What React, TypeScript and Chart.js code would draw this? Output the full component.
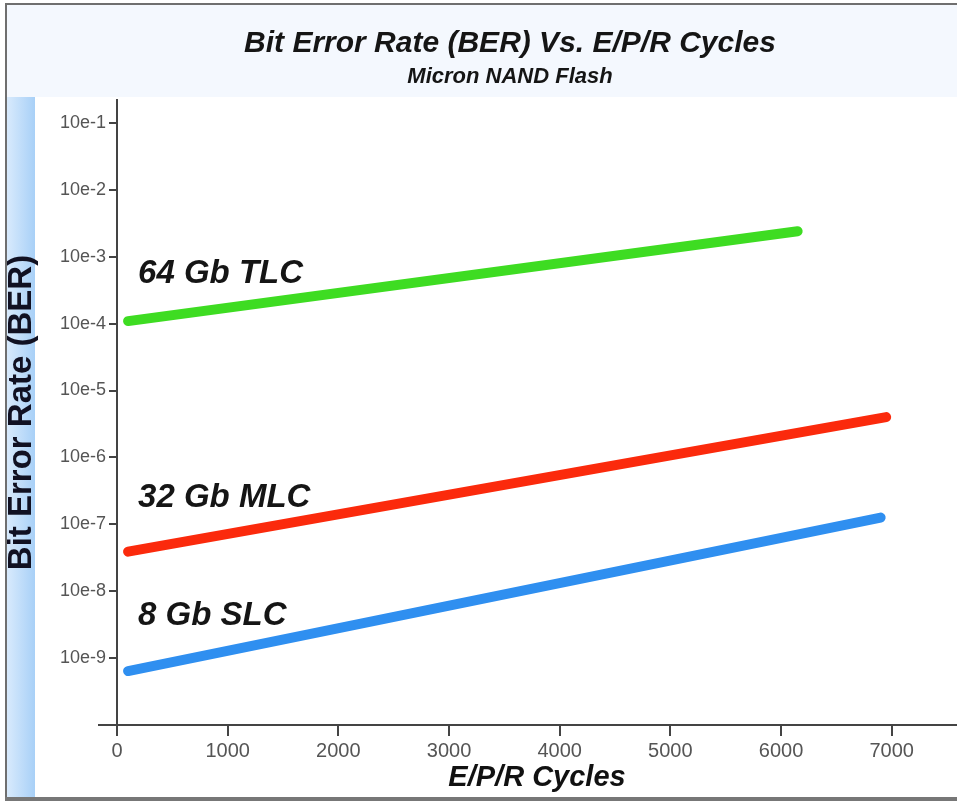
import React, { useEffect, useRef } from 'react';
import { Chart, registerables } from 'chart.js';

Chart.register(...registerables);

const CHART_TITLE = 'Bit Error Rate (BER) Vs. E/P/R Cycles';
const CHART_SUBTITLE = 'Micron NAND Flash';
const X_TITLE = 'E/P/R Cycles';
const Y_TITLE = 'Bit Error Rate (BER)';

const seriesNames = ['64 Gb TLC', '32 Gb MLC', '8 Gb SLC'];
const seriesColors = ['#3edc22', '#fb2a0c', '#2f8ff0'];

const tlcCycles = [100, 6150];
const tlcBER = [1.09e-4, 2.4e-3];
const mlcCycles = [100, 6950];
const mlcBER = [3.9e-8, 4.0e-6];
const slcCycles = [100, 6900];
const slcBER = [6.4e-10, 1.26e-7];

const labelCycles = [190, 190, 190];
const labelBER = [4.0e-4, 1.84e-7, 3.1e-9];

const xTickValues = [0, 1000, 2000, 3000, 4000, 5000, 6000, 7000];
const xTickLabels = ['0', '1000', '2000', '3000', '4000', '5000', '6000', '7000'];
const yTickValues = [1e-9, 1e-8, 1e-7, 1e-6, 1e-5, 1e-4, 1e-3, 1e-2, 1e-1];
const yTickLabels = ['10e-9', '10e-8', '10e-7', '10e-6', '10e-5', '10e-4', '10e-3', '10e-2', '10e-1'];

const X_MIN = 0;
const X_MAX = 7590;
const Y_MIN = 1e-10;
const Y_MAX = 0.22;

const SANS = '"Liberation Sans", Arial, sans-serif';

const decorPlugin = {
  id: 'decor',
  beforeDraw(chart: any) {
    const ctx = chart.ctx;
    const W = chart.width;
    const H = chart.height;
    ctx.save();
    ctx.fillStyle = '#ffffff';
    ctx.fillRect(0, 0, W, H);
    ctx.fillStyle = '#f4f8fe';
    ctx.fillRect(7, 5, W - 7, 92);
    const g = ctx.createLinearGradient(7, 0, 35, 0);
    g.addColorStop(0, '#d8eafc');
    g.addColorStop(1, '#a8d0f7');
    ctx.fillStyle = g;
    ctx.fillRect(7, 97, 28, 701);
    ctx.fillStyle = '#6f6f6f';
    ctx.fillRect(5, 3, 2, 798);
    ctx.fillRect(5, 3, W - 5, 2);
    ctx.fillStyle = '#777777';
    ctx.fillRect(5, 797, W - 5, 4);
    ctx.restore();
  },
  afterDraw(chart: any) {
    const ctx = chart.ctx;
    const { x, y } = chart.scales;
    const area = chart.chartArea;
    ctx.save();
    ctx.strokeStyle = '#444444';
    ctx.lineWidth = 2;
    ctx.beginPath();
    ctx.moveTo(area.left - 19, area.bottom);
    ctx.lineTo(area.left, area.bottom);
    ctx.stroke();

    ctx.fillStyle = '#151515';
    ctx.textAlign = 'center';
    ctx.textBaseline = 'alphabetic';
    ctx.font = `bold italic 30px ${SANS}`;
    ctx.fillText(CHART_TITLE, 510, 52);
    ctx.font = `bold italic 22px ${SANS}`;
    ctx.fillText(CHART_SUBTITLE, 510, 83);

    ctx.textAlign = 'left';
    ctx.font = `bold italic 33px ${SANS}`;
    seriesNames.forEach((name, i) => {
      ctx.fillText(name, x.getPixelForValue(labelCycles[i]), y.getPixelForValue(labelBER[i]));
    });
    ctx.restore();
  },
};

export default function App() {
  const canvasRef = useRef<HTMLCanvasElement | null>(null);

  useEffect(() => {
    document.body.style.margin = '0';
    const canvas = canvasRef.current;
    if (!canvas) return;

    const toPoints = (xs: number[], ys: number[]) => xs.map((v, i) => ({ x: v, y: ys[i] }));
    const seriesData = [
      toPoints(tlcCycles, tlcBER),
      toPoints(mlcCycles, mlcBER),
      toPoints(slcCycles, slcBER),
    ];

    const chart = new Chart(canvas, {
      type: 'line',
      data: {
        datasets: seriesData.map((d, i) => ({
          label: seriesNames[i],
          data: d,
          borderColor: seriesColors[i],
          backgroundColor: seriesColors[i],
          borderWidth: 10,
          borderCapStyle: 'round',
          pointRadius: 0,
          fill: false,
          tension: 0,
        })),
      },
      options: {
        animation: false,
        responsive: false,
        maintainAspectRatio: false,
        layout: { padding: { top: 100, left: 0, right: 0, bottom: 0 } },
        plugins: {
          legend: { display: false },
          tooltip: { enabled: false },
          title: { display: false },
        },
        scales: {
          x: {
            type: 'linear',
            min: X_MIN,
            max: X_MAX,
            afterBuildTicks: (s: any) => {
              s.ticks = xTickValues.map((v) => ({ value: v }));
            },
            afterFit: (s: any) => {
              s.height = 78;
            },
            grid: {
              display: true,
              drawOnChartArea: false,
              drawTicks: true,
              tickLength: 11,
              color: '#444444',
              lineWidth: 2,
            },
            border: { display: true, color: '#444444', width: 2 },
            ticks: {
              autoSkip: false,
              maxRotation: 0,
              padding: 3,
              color: '#555555',
              font: { family: SANS, size: 20 },
              callback: (v: any) => {
                const i = xTickValues.indexOf(Number(v));
                return i >= 0 ? xTickLabels[i] : '';
              },
            },
            title: {
              display: true,
              text: X_TITLE,
              color: '#111111',
              font: { family: SANS, size: 29, weight: 'bold', style: 'italic' },
              padding: { top: 0, bottom: 8 },
            },
          },
          y: {
            type: 'logarithmic',
            min: Y_MIN,
            max: Y_MAX,
            afterBuildTicks: (s: any) => {
              s.ticks = yTickValues.map((v) => ({ value: v }));
            },
            afterFit: (s: any) => {
              s.width = 117;
            },
            grid: {
              display: true,
              drawOnChartArea: false,
              drawTicks: true,
              tickLength: 8,
              color: '#444444',
              lineWidth: 2,
            },
            border: { display: true, color: '#444444', width: 2 },
            ticks: {
              autoSkip: false,
              padding: 3,
              color: '#555555',
              font: { family: SANS, size: 18 },
              callback: (v: any) => {
                const i = yTickValues.indexOf(Number(v));
                return i >= 0 ? yTickLabels[i] : '';
              },
            },
            title: {
              display: true,
              text: Y_TITLE,
              color: '#111122',
              font: { family: SANS, size: 33, weight: 'bold' },
              padding: { top: 2, bottom: 0 },
            },
          },
        },
      },
      plugins: [decorPlugin],
    } as any);

    return () => {
      chart.destroy();
    };
  }, []);

  return (
    <div style={{ width: 957, height: 803 }}>
      <canvas ref={canvasRef} width={957} height={803} style={{ display: 'block' }} />
    </div>
  );
}
